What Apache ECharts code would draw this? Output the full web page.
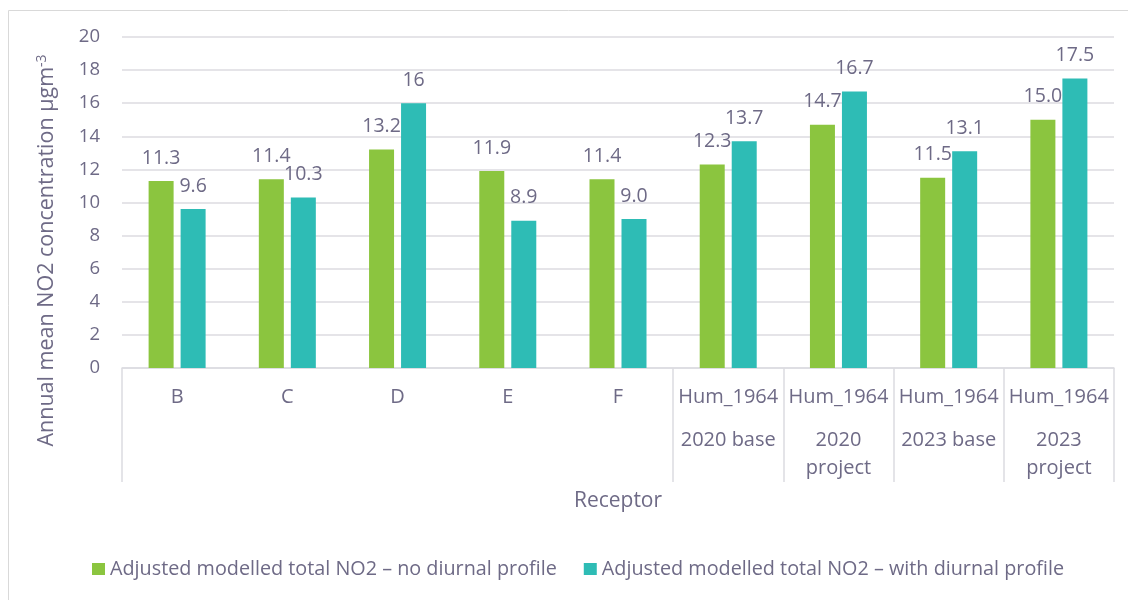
<!DOCTYPE html>
<html>
<head>
<meta charset="utf-8">
<script src="https://cdn.jsdelivr.net/npm/echarts@6/dist/echarts.min.js"></script>
<style>
html,body{margin:0;padding:0;background:#fff;}
#chart{width:1128px;height:600px;}
</style>
</head>
<body>
<div id="chart"></div>
<script>
const receptors = ['B','C','D','E','F','Hum_1964','Hum_1964','Hum_1964','Hum_1964'];
const scenarios = ['','','','','','2020 base','2020\nproject','2023 base','2023\nproject'];
const noDiurnal = [11.3, 11.4, 13.2, 11.9, 11.4, 12.3, 14.7, 11.5, 15.0];
const withDiurnal = [9.6, 10.3, 16, 8.9, 9.0, 13.7, 16.7, 13.1, 17.5];
const noDiurnalLabels = ['11.3','11.4','13.2','11.9','11.4','12.3','14.7','11.5','15.0'];
const withDiurnalLabels = ['9.6','10.3','16','8.9','9.0','13.7','16.7','13.1','17.5'];
const yTicks = [0, 2, 4, 6, 8, 10, 12, 14, 16, 18, 20];
const seriesNames = ['Adjusted modelled total NO2 \u2013 no diurnal profile','Adjusted modelled total NO2 \u2013 with diurnal profile'];
const groupStarts = [0, 5, 6, 7, 8];

const FONT = 'Open Sans';
const TXT = '#6E6A86';
const GRID = '#DCDBE1';
const GREEN = '#8BC53F';
const TEAL = '#2EBCB5';
const FS = 20;

const chart = echarts.init(document.getElementById('chart'), null, {renderer: 'canvas'});
const option = {
  animation: false,
  textStyle: {fontFamily: FONT, color: TXT},
  graphic: [{
    type: 'rect', silent: true,
    shape: {x: 8.5, y: 10.5, width: 1300, height: 800},
    style: {fill: 'none', stroke: '#D9D9D9', lineWidth: 1}
  }],
  grid: {left: 122, right: 14, top: 37, bottom: 232, containLabel: false},
  legend: {
    left: 92, top: 559, padding: 0,
    icon: 'rect', itemWidth: 13, itemHeight: 12, itemGap: 27,
    textStyle: {fontFamily: FONT, fontSize: 19.8, color: TXT, lineHeight: 20},
    data: seriesNames
  },
  xAxis: {
    type: 'category',
    data: receptors,
    name: 'Receptor',
    nameLocation: 'middle',
    nameGap: 122,
    nameTextStyle: {fontFamily: FONT, fontSize: 21, color: TXT, lineHeight: 22},
    axisLine: {show: true, lineStyle: {color: GRID, width: 1.5}},
    axisTick: {
      show: true, length: 114, alignWithLabel: false,
      interval: function (idx) { return groupStarts.indexOf(idx) >= 0; },
      lineStyle: {color: GRID, width: 1.5}
    },
    axisLabel: {
      interval: 0, margin: 0,
      formatter: function (v, i) {
        let s = '{a|' + receptors[i] + '}';
        if (scenarios[i]) {
          s += '\n' + scenarios[i].split('\n').map(function (t) { return '{b|' + t + '}'; }).join('\n');
        }
        return s;
      },
      rich: {
        a: {fontFamily: FONT, fontSize: FS, color: TXT, lineHeight: 58},
        b: {fontFamily: FONT, fontSize: FS, color: TXT, lineHeight: 28}
      }
    },
    splitLine: {show: false}
  },
  yAxis: {
    type: 'value',
    min: yTicks[0], max: yTicks[yTicks.length - 1], interval: yTicks[1] - yTicks[0],
    name: '{a|Annual mean NO2 concentration \u00b5gm}{s|-3}',
    nameLocation: 'middle',
    nameGap: 63,
    nameTextStyle: {
      padding: [0, 96, 0, 0],
      rich: {
        a: {fontFamily: FONT, fontSize: 21.5, color: TXT, lineHeight: 24},
        s: {fontFamily: FONT, fontSize: 14, color: TXT, verticalAlign: 'top', lineHeight: 14}
      }
    },
    axisLine: {show: false},
    axisTick: {show: false},
    axisLabel: {fontFamily: FONT, fontSize: 18.5, color: TXT, margin: 22},
    splitLine: {show: true, lineStyle: {color: GRID, width: 1.5}}
  },
  series: [
    {
      name: seriesNames[0], type: 'bar', data: noDiurnal,
      barWidth: 25, barGap: '28%',
      itemStyle: {color: GREEN},
      label: {
        show: true, position: 'top', distance: 14,
        fontFamily: FONT, fontSize: 19.5, color: TXT, lineHeight: 18,
        formatter: function (p) { return noDiurnalLabels[p.dataIndex]; }
      }
    },
    {
      name: seriesNames[1], type: 'bar', data: withDiurnal,
      barWidth: 25, barGap: '28%',
      itemStyle: {color: TEAL},
      label: {
        show: true, position: 'top', distance: 14,
        fontFamily: FONT, fontSize: 19.5, color: TXT, lineHeight: 18,
        formatter: function (p) { return withDiurnalLabels[p.dataIndex]; }
      }
    }
  ]
};
chart.setOption(option);
</script>
</body>
</html>
